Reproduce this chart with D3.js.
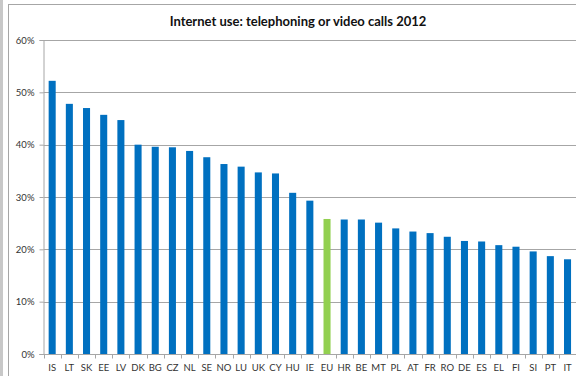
<!DOCTYPE html>
<html>
<head>
<meta charset="utf-8">
<script src="https://cdn.jsdelivr.net/npm/d3@7"></script>
<style>
  html, body { margin: 0; padding: 0; background: #fff; }
  svg { display: block; }
</style>
</head>
<body>
<svg id="chart" width="576" height="376"></svg>
<script>
// Share of individuals using the internet for telephoning or video calls, 2012 (%)
const countries = ["IS","LT","SK","EE","LV","DK","BG","CZ","NL","SE","NO","LU","UK","CY","HU","IE","EU","HR","BE","MT","PL","AT","FR","RO","DE","ES","EL","FI","SI","PT","IT"];
const shares = [52.2,47.8,47.0,45.7,44.7,40.0,39.6,39.5,38.8,37.6,36.3,35.8,34.7,34.5,30.8,29.3,25.8,25.7,25.7,25.1,24.0,23.4,23.1,22.4,21.6,21.5,20.8,20.5,19.6,18.7,18.1];
const yTicks = [0,10,20,30,40,50,60];
const titleText = "Internet use: telephoning or video calls 2012";
const highlight = "EU";

const svg = d3.select("#chart");
const font = "Lato, 'Open Sans', 'Liberation Sans', sans-serif";

// outer frame pieces
svg.append("rect").attr("x", 0).attr("y", 0).attr("width", 3).attr("height", 376).attr("fill", "#c8c8c8");
svg.append("rect").attr("x", 8.5).attr("y", 4.5).attr("width", 600).attr("height", 400)
  .attr("fill", "none").attr("stroke", "#a6a6a6").attr("stroke-width", 1);

const plotLeft = 43.5, plotRight = 576.2, plotTop = 40, plotBottom = 354;

const x = d3.scaleBand().domain(countries).range([plotLeft, plotRight]).paddingInner(0.59).paddingOuter(0.3);
const y = d3.scaleLinear().domain([0, 60]).range([plotBottom, plotTop]);

// gridlines
svg.append("g").selectAll("line").data(yTicks.filter(t => t > 0)).join("line")
  .attr("x1", plotLeft).attr("x2", 576)
  .attr("y1", d => Math.round(y(d)) + 0.5).attr("y2", d => Math.round(y(d)) + 0.5)
  .attr("stroke", "#a6a6a6").attr("stroke-width", 1);

// bars
svg.append("g").selectAll("rect").data(countries).join("rect")
  .attr("x", d => x(d))
  .attr("width", x.bandwidth())
  .attr("y", (d, i) => y(shares[i]))
  .attr("height", (d, i) => y(0) - y(shares[i]))
  .attr("fill", d => d === highlight ? "#92d050" : "#0070c0");

// y axis
const yAxis = svg.append("g").attr("transform", `translate(${plotLeft},0)`)
  .call(d3.axisLeft(y).tickValues(yTicks).tickFormat(d => d + "%").tickSize(4).tickPadding(5));
yAxis.select(".domain").attr("stroke", "#a6a6a6");
yAxis.selectAll(".tick line").attr("stroke", "#a6a6a6");
yAxis.selectAll(".tick text").attr("font-family", font).attr("font-size", 9.5).attr("fill", "#333");

// x axis with ticks between categories
const catWidth = (plotRight - plotLeft) / countries.length;
const xAxisG = svg.append("g").attr("transform", `translate(0,${plotBottom + 0.5})`);
xAxisG.append("line").attr("x1", plotLeft - 4).attr("x2", 576).attr("y1", 0).attr("y2", 0).attr("stroke", "#a6a6a6");
xAxisG.selectAll("line.t").data(d3.range(countries.length + 1)).join("line").attr("class", "t")
  .attr("x1", i => Math.round(plotLeft + i * catWidth) + 0.5).attr("x2", i => Math.round(plotLeft + i * catWidth) + 0.5)
  .attr("y1", 0).attr("y2", 4).attr("stroke", "#a6a6a6");
xAxisG.selectAll("text").data(countries).join("text")
  .attr("x", d => x(d) + x.bandwidth() / 2)
  .attr("y", 16)
  .attr("text-anchor", "middle")
  .attr("font-family", font).attr("font-size", 9.5).attr("fill", "#333")
  .text(d => d);

// title
svg.append("text").attr("x", 298).attr("y", 26).attr("text-anchor", "middle")
  .attr("font-family", font).attr("font-weight", "bold").attr("font-size", 13).attr("fill", "#111")
  .text(titleText);
</script>
</body>
</html>
